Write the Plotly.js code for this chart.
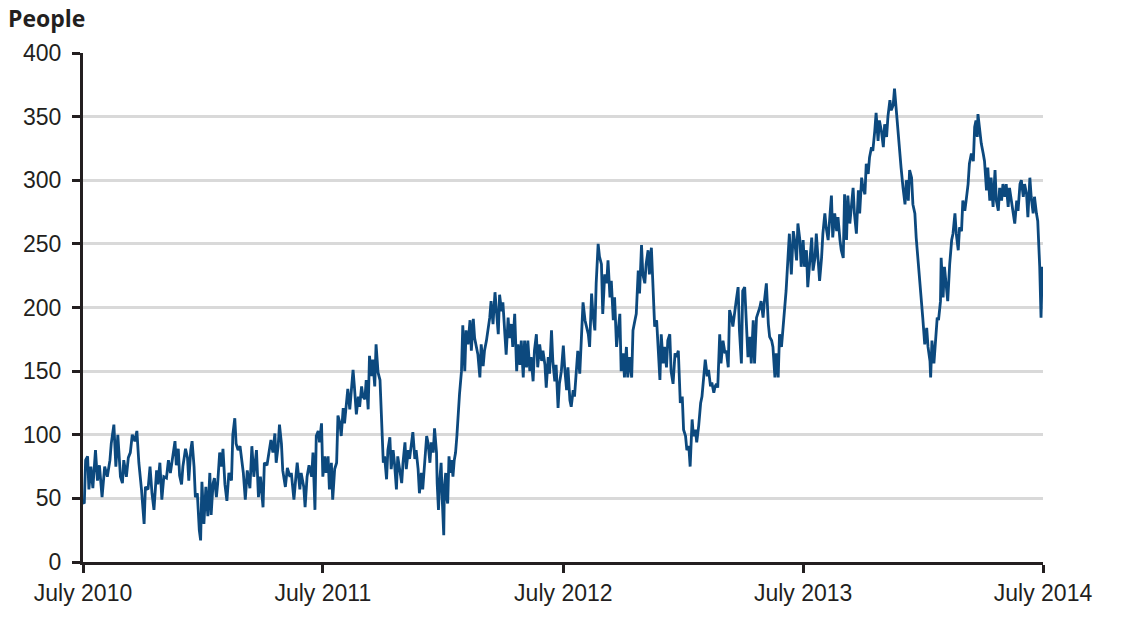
<!DOCTYPE html>
<html>
<head>
<meta charset="utf-8">
<script src="https://cdn.plot.ly/plotly-3.0.1.min.js"></script>
<style>
  html, body { margin: 0; padding: 0; background: #ffffff; }
  #chart { width: 1125px; height: 621px; }
</style>
</head>
<body>
<div id="chart"></div>
<script>
// Days since 1 July 2010 and number of people
const daysY1 = [0,2,4,7,9,12,15,19,22,25,29,33,37,41,43,47,50,53,57,60,62,66,69,72,75,79,82,85,89,93,95,99,102,105,108,112,114,117,120,123,127,130,133,136,140,142,145,147,150,152,156,159,161,164,166,169,171,174,177,179,181,184,187,190,193,195,198,200,203,205,208,211,213,216,219,222,226,228,231,233,236,239,244,247,250,254,257,260,264,267,270,274,276,280,283,286,289,292,294,297,299,302,304,308,311,315,317,321,324,326,330,332,336,338,341,344,348,350,353,355,358,360,363];
const peopleY1 = [47,46,80,83,57,75,58,88,64,76,51,75,67,80,93,108,75,100,67,62,80,67,82,86,100,95,103,78,57,30,59,57,75,54,41,72,61,78,49,67,66,80,70,82,95,76,89,68,61,75,89,82,64,88,95,75,51,54,25,17,63,30,59,36,70,37,62,66,51,62,86,75,89,61,48,70,64,100,113,93,88,91,70,49,72,58,91,67,88,51,67,43,78,76,88,96,86,101,78,91,108,93,72,59,74,67,70,49,67,78,57,70,59,43,67,76,67,86,41,99,103,94,109];

const daysY2 = [365,368,370,373,375,378,380,383,386,388,391,393,396,398,401,403,406,408,411,413,416,419,421,424,426,429,431,434,436,439,441,444,446,449,452,454,457,459,462,464,467,469,472,474,477,479,482,485,487,490,492,495,497,500,502,505,507,510,512,515,517,520,523,525,528,530,533,535,538,539,541,543,545,547,549,550,552,553,555,557,559,561,563,565,567,569,571,573,576,578,581,583,586,589,591,594,596,599,601,604,606,609,611,614,616,619,621,624,627,629,632,634,637,639,642,644,647,649,652,654,657,660,662,665,667,670,672,675,677,680,682,685,687,690,692,695,698,700,703,705,708,710,713,715,718,720,723,725,728];
const peopleY2 = [67,83,70,83,57,78,49,73,78,115,109,99,121,109,126,136,120,136,151,138,116,130,122,138,130,128,143,120,162,146,159,138,171,149,143,117,78,83,65,88,98,73,88,78,57,83,73,62,78,94,73,88,81,96,102,81,88,73,54,70,57,78,99,94,78,94,86,105,86,62,41,65,78,46,21,59,70,52,46,83,70,80,67,80,86,99,118,132,150,186,150,182,171,190,166,191,176,169,163,145,171,154,166,174,182,192,205,187,212,200,179,210,197,204,179,163,192,176,187,169,195,150,171,155,174,145,174,153,174,150,161,142,166,179,153,171,158,166,155,137,161,148,182,158,142,155,121,140,150];

const daysY3 = [731,733,736,738,741,743,746,748,751,753,756,758,761,764,766,769,771,774,776,779,781,784,786,789,791,794,797,799,802,804,807,809,812,814,817,819,822,824,827,829,832,835,837,840,842,845,847,850,852,855,857,860,862,865,868,870,873,875,878,880,883,885,888,890,893,895,898,901,903,906,909,912,914,917,919,922,924,927,929,932,934,937,940,942,945,947,950,952,955,957,960,962,964,966,969,971,974,977,979,982,984,987,989,992,994,997,999,1002,1004,1007,1010,1012,1015,1017,1020,1022,1025,1027,1030,1032,1035,1037,1040,1043,1045,1048,1050,1053,1055,1058,1060,1063,1065,1068,1070,1073,1075,1078,1081,1083,1086,1088,1091,1093];
const peopleY3 = [170,153,135,153,127,122,135,130,150,166,148,169,204,190,185,179,169,211,195,182,219,250,240,234,195,226,219,237,208,221,190,208,169,182,195,150,164,145,169,145,161,145,182,190,195,229,211,249,226,219,234,245,226,247,213,185,190,166,143,179,156,169,153,174,179,150,140,164,161,166,125,130,104,99,88,91,75,112,99,104,94,107,125,130,151,159,146,151,138,141,133,138,140,137,179,156,174,164,166,153,198,192,185,200,205,216,182,156,213,216,187,161,177,156,190,156,192,195,200,205,192,205,219,187,177,174,169,145,164,145,179,169,182,195,213,240,258,226,260,253,237,266,253,232];

const daysY4 = [1096,1098,1101,1103,1106,1109,1111,1114,1116,1119,1121,1124,1126,1129,1131,1134,1136,1139,1141,1144,1147,1149,1152,1154,1157,1159,1162,1164,1167,1169,1172,1174,1177,1180,1182,1185,1187,1190,1192,1195,1197,1200,1202,1205,1207,1210,1212,1215,1218,1220,1223,1225,1228,1230,1233,1235,1238,1240,1243,1245,1248,1251,1253,1256,1258,1261,1263,1266,1268,1271,1273,1276,1278,1281,1284,1286,1289,1290,1292,1295,1297,1300,1302,1305,1306,1309,1311,1314,1316,1319,1322,1324,1327,1329,1332,1334,1337,1339,1342,1344,1347,1349,1352,1355,1357,1359,1361,1362,1365,1367,1370,1372,1375,1377,1380,1382,1385,1388,1390,1393,1395,1398,1400,1403,1405,1408,1410,1413,1415,1418,1421,1423,1426,1428,1431,1433,1436,1438,1441,1443,1446,1448,1451,1453,1456,1458,1460,1461];
const peopleY4 = [253,232,245,216,237,255,229,239,258,234,221,239,258,274,263,253,268,288,255,274,260,271,253,245,239,289,253,288,266,279,294,274,258,292,274,302,294,289,313,305,318,326,323,339,353,331,347,339,326,344,334,350,363,355,359,372,352,344,318,310,294,281,300,284,308,302,281,274,255,237,221,208,192,171,184,169,158,145,174,156,174,192,190,205,239,208,232,211,205,234,253,258,274,258,245,263,260,284,276,284,297,313,321,315,342,347,334,352,339,329,321,315,292,310,284,302,279,308,284,276,294,284,297,287,297,279,294,284,274,266,284,276,297,300,287,297,289,271,302,287,274,287,274,268,232,192,232,216];

const startDate = '2010-07-01';
const tickDates = ['2010-07-01','2011-07-01','2012-07-01','2013-07-01','2014-07-01'];
const tickLabels = ['July 2010','July 2011','July 2012','July 2013','July 2014'];
const yTitle = 'People';

const allDays = [].concat(daysY1, daysY2, daysY3, daysY4);
const allPeople = [].concat(peopleY1, peopleY2, peopleY3, peopleY4);
const t0 = Date.parse(startDate + 'T00:00:00Z');
const xDates = allDays.map(d => new Date(t0 + d * 86400000).toISOString().slice(0, 10));

const ink = '#231f20';
const tickFont = { family: 'Liberation Sans, Arial, sans-serif', size: 23, color: ink };

const trace = {
  x: xDates,
  y: allPeople,
  type: 'scatter',
  mode: 'lines',
  line: { color: '#0c497e', width: 2.8 },
  hoverinfo: 'skip'
};

const layout = {
  width: 1125,
  height: 621,
  margin: { l: 83, r: 82, t: 53, b: 59 },
  paper_bgcolor: '#ffffff',
  plot_bgcolor: '#ffffff',
  showlegend: false,
  xaxis: {
    type: 'date',
    range: [tickDates[0], tickDates[tickDates.length - 1]],
    tickmode: 'array',
    tickvals: tickDates,
    ticktext: tickLabels,
    showgrid: false,
    zeroline: false,
    showline: true,
    linecolor: ink,
    linewidth: 3,
    ticks: 'outside',
    ticklen: 8,
    tickwidth: 3,
    tickcolor: ink,
    tickfont: tickFont,
    ticklabelstandoff: 0,
    fixedrange: true
  },
  yaxis: {
    range: [0, 400],
    tickmode: 'linear',
    tick0: 0,
    dtick: 50,
    showgrid: true,
    gridcolor: '#d9d9d9',
    gridwidth: 3,
    zeroline: false,
    showline: true,
    linecolor: ink,
    linewidth: 3,
    ticks: 'outside',
    ticklen: 8,
    tickwidth: 3,
    tickcolor: ink,
    tickfont: tickFont,
    ticklabelstandoff: 6,
    fixedrange: true
  },
  annotations: [{
    text: '<b>' + yTitle + '</b>',
    xref: 'paper', yref: 'paper',
    x: -0.08, y: 1.068,
    xanchor: 'left', yanchor: 'middle',
    showarrow: false,
    font: { family: 'Open Sans, Noto Sans, sans-serif', size: 23, color: ink }
  }]
};

Plotly.newPlot('chart', [trace], layout, { displayModeBar: false, staticPlot: true });
</script>
</body>
</html>
